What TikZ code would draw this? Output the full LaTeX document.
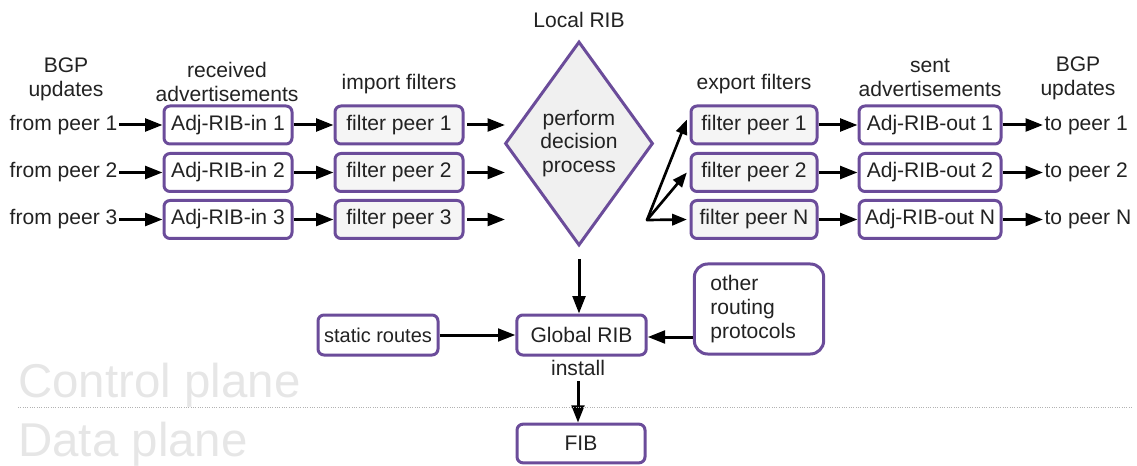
\documentclass[tikz,border=0pt]{standalone}
\usepackage{fontspec}
\setmainfont{Liberation Sans}
\usetikzlibrary{arrows.meta,shapes.geometric}
\definecolor{bpurple}{HTML}{6B4C9A}
\definecolor{txt}{HTML}{222222}
\definecolor{lfill}{HTML}{F5F5F5}
\definecolor{dfill}{HTML}{F0F0F0}
\definecolor{plane}{HTML}{E6E6E6}
\begin{document}
\begin{tikzpicture}[x=0.75pt,y=-0.75pt,
  every node/.style={text=txt,font=\fontsize{15.8}{18}\selectfont},
  box/.style={draw=bpurple,line width=2.25pt,rounded corners=4.5pt,fill=white,
    minimum height=28.5pt,inner sep=1pt},
  fbox/.style={box,fill=lfill},
  lbl/.style={align=center,inner sep=1pt},
  arr/.style={line width=2.25pt,-{Triangle[length=13pt,width=9.5pt]}},
  farr/.style={line width=2pt,-{Triangle[length=11pt,width=8.5pt]}}
]
\useasboundingbox (0,0) rectangle (1137,466);

% header labels
\node[lbl] (hbgpL) at (66,79) {BGP\\updates};
\node[lbl] (hrecv) at (227,82) {received\\advertisements};
\node[lbl] (himp) at (399,84) {import filters};
\node[lbl] (hlocal) at (579,20) {Local RIB};
\node[lbl] (hexp) at (754,84) {export filters};
\node[lbl] (hsent) at (930,78) {sent\\advertisements};
\node[lbl] (hbgpR) at (1078,78) {BGP\\updates};

% diamond
\node[draw=bpurple,line width=2.25pt,fill=dfill,shape=diamond,aspect=0.725,
  minimum width=111pt,minimum height=153pt,inner sep=0pt,
  font=\fontsize{15.8}{17.6}\selectfont,align=center] (dp) at (579,143.5)
  {perform\\decision\\process};

% rows
\foreach \i/\y in {1/125,2/172.5,3/219.5}{
  \node[inner sep=1pt,anchor=east] (from\i) at (119,\y) {from peer \i};
  \node[box,minimum width=96pt] (in\i) at (228,\y) {Adj-RIB-in \i};
  \node[fbox,minimum width=96pt] (imp\i) at (399,\y) {filter peer \i};
  \coordinate (ie\i) at (505,\y);
  \draw[arr] (from\i) -- (in\i);
  \draw[arr] (in\i) -- (imp\i);
  \draw[arr] ([xshift=2pt]imp\i.east) -- (ie\i);
}

\foreach \i/\n/\y in {1/1/125,2/2/172.5,3/N/219.5}{
  \node[fbox,minimum width=94.5pt] (exp\i) at (754,\y) {filter peer \n};
  \node[box,minimum width=106.5pt] (out\i) at (930,\y) {Adj-RIB-out \n};
  \node[inner sep=1pt,anchor=west] (to\i) at (1043,\y) {to peer \n};
  \draw[arr] (exp\i) -- (out\i);
  \draw[arr] (out\i) -- (to\i);
}

% fan
\coordinate (fan) at (647,220);
\draw[farr,line cap=round] (fan) -- ([shift={(-2pt,4pt)}]exp1.west);
\draw[farr,line cap=round] (fan) -- ([xshift=-2pt]exp2.west);
\draw[farr,line cap=round] (fan) -- ([xshift=-2pt]exp3.west);

% bottom part
\node[box,minimum width=90pt,minimum height=30pt,inner xsep=0pt,
  font=\fontsize{15}{18}\selectfont] (static) at (378,335) {static routes};
\node[box,minimum width=97pt,minimum height=30pt] (global) at (581.5,335) {Global RIB};
\node[box,minimum height=67.5pt,align=left,
  text width=73pt,inner xsep=12pt,rounded corners=10pt] (other) at (759,309) {other\\routing\\protocols};
\node[inner sep=1pt] (install) at (578,368) {install};
\node[box,minimum width=96pt,minimum height=29pt] (fib) at (581,443.5) {FIB};

\draw[arr] ([yshift=-9pt]dp.south) -- (global.north -| dp.south);
\draw[arr] (static) -- (global);
\draw[arr] (other.west |- 0,337) -- (global.east |- 0,337);
\draw[arr] ([yshift=-3pt]install.south) -- (fib.north -| install.south);

% planes
\draw[gray!60,line width=0.75pt,densely dotted] (18,407) -- (1132,407);
\node[anchor=base west,inner sep=0pt,text=plane,font=\fontsize{35.6}{40}\selectfont] (cp) at (18,397) {Control plane};
\node[anchor=base west,inner sep=0pt,text=plane,font=\fontsize{35.6}{40}\selectfont] (dpl) at (18,456) {Data plane};
\end{tikzpicture}
\end{document}
